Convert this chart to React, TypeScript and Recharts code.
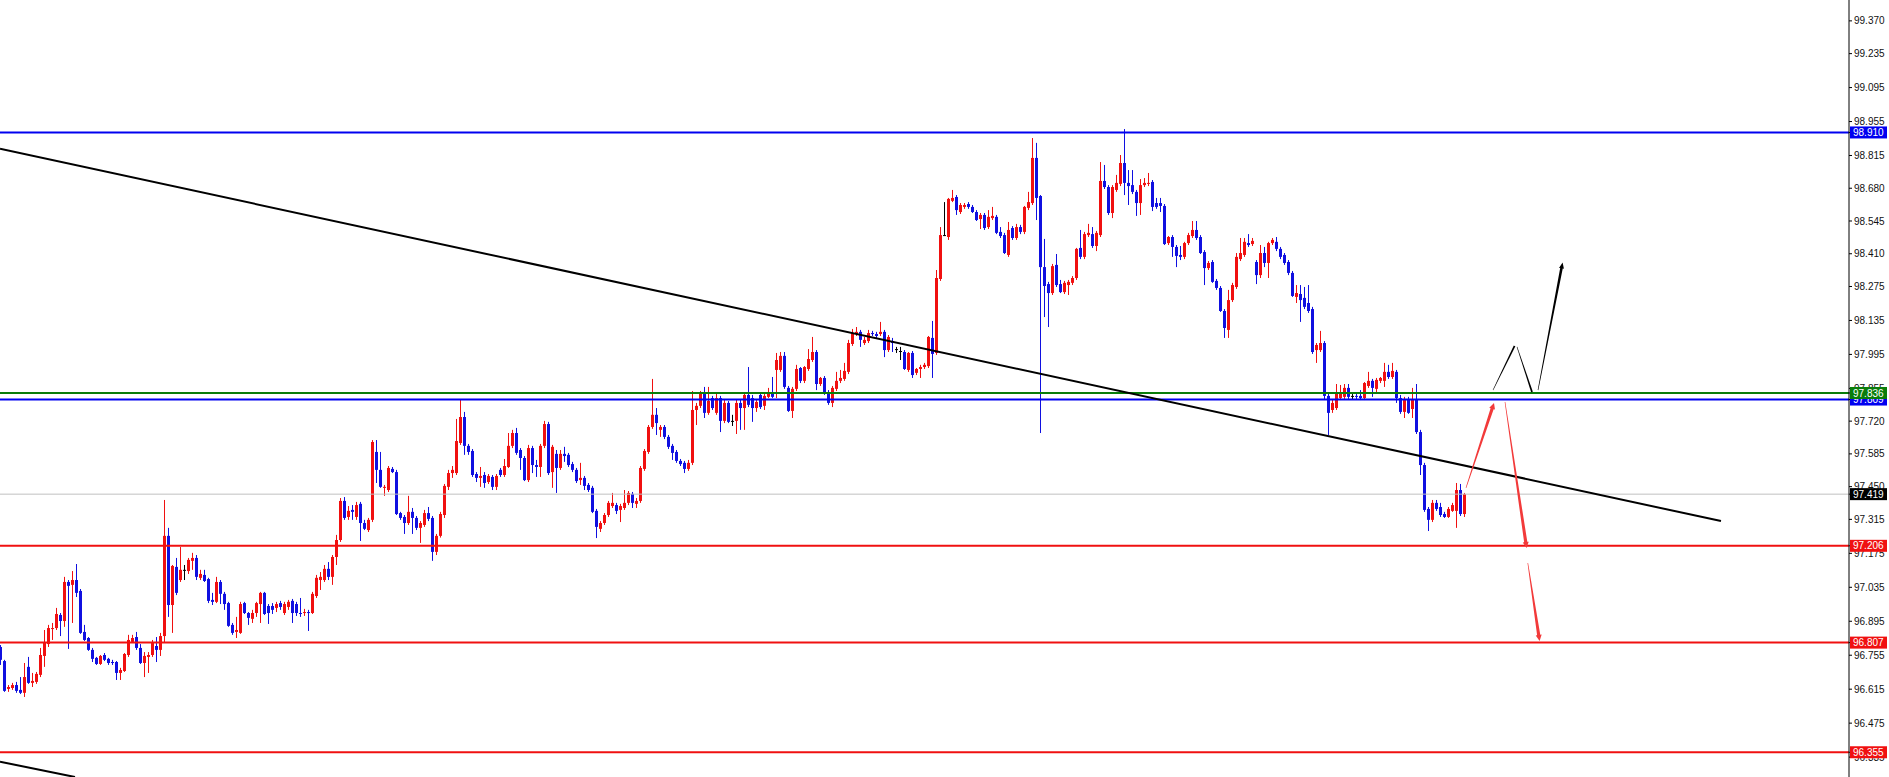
import React from 'react';
import { ComposedChart, Bar, XAxis, YAxis, ReferenceLine } from 'recharts';

const opens = [
96.789,96.731,96.616,96.620,96.632,96.612,96.600,96.707,96.641,96.645,96.674,96.752,96.801,96.863,96.867,96.921,96.896,97.057,97.045,97.065,
97.020,96.851,96.826,96.777,96.744,96.719,96.756,96.740,96.727,96.727,96.682,96.690,96.756,96.810,96.830,96.785,96.723,96.748,96.756,96.793,
96.777,96.834,97.247,96.962,97.119,97.065,97.107,97.102,97.144,97.156,97.074,97.086,97.069,96.983,96.975,97.057,97.008,96.970,96.880,96.851,
96.847,96.970,96.929,96.905,96.929,96.966,97.012,96.958,96.958,96.950,96.970,96.929,96.954,96.979,96.966,96.929,96.929,96.933,96.929,96.999,
97.065,97.065,97.111,97.078,97.160,97.230,97.391,97.325,97.354,97.325,97.379,97.300,97.271,97.313,97.593,97.519,97.445,97.436,97.523,97.510,
97.341,97.325,97.300,97.346,97.321,97.280,97.292,97.341,97.321,97.181,97.247,97.333,97.449,97.506,97.506,97.630,97.737,97.618,97.597,97.502,
97.486,97.498,97.469,97.490,97.449,97.519,97.498,97.531,97.618,97.671,97.601,97.568,97.477,97.609,97.539,97.531,97.618,97.708,97.510,97.585,
97.527,97.585,97.581,97.543,97.519,97.477,97.486,97.457,97.445,97.350,97.276,97.300,97.333,97.370,97.374,97.354,97.362,97.383,97.420,97.379,
97.391,97.523,97.593,97.696,97.746,97.684,97.696,97.655,97.618,97.593,97.556,97.548,97.523,97.548,97.766,97.783,97.836,97.754,97.815,97.754,
97.815,97.721,97.795,97.721,97.721,97.795,97.774,97.828,97.815,97.774,97.828,97.783,97.820,97.836,97.931,97.931,97.989,97.857,97.762,97.853,
97.939,97.886,97.935,97.972,98.005,97.873,97.898,97.840,97.795,97.853,97.886,97.894,97.923,98.038,98.079,98.088,98.042,98.050,98.083,98.079,
98.079,98.088,98.013,98.050,98.017,98.009,98.005,97.931,98.001,97.919,97.935,97.943,97.947,98.063,98.001,98.306,98.487,98.479,98.628,98.644,
98.582,98.603,98.615,98.603,98.582,98.553,98.570,98.520,98.557,98.562,98.500,98.487,98.405,98.516,98.475,98.520,98.500,98.599,98.619,98.805,
98.648,98.355,98.285,98.248,98.364,98.285,98.252,98.281,98.290,98.310,98.434,98.397,98.487,98.491,98.442,98.487,98.710,98.685,98.578,98.673,
98.698,98.784,98.702,98.693,98.665,98.619,98.693,98.698,98.706,98.619,98.619,98.607,98.454,98.479,98.438,98.405,98.397,98.454,98.483,98.508,
98.479,98.417,98.351,98.376,98.298,98.269,98.174,98.096,98.219,98.273,98.388,98.405,98.454,98.450,98.376,98.322,98.413,98.372,98.454,98.459,
98.430,98.405,98.376,98.331,98.232,98.244,98.228,98.207,98.182,98.013,98.013,98.042,97.824,97.766,97.774,97.815,97.820,97.857,97.824,97.824,
97.824,97.815,97.865,97.886,97.853,97.886,97.886,97.923,97.902,97.923,97.815,97.758,97.811,97.770,97.811,97.675,97.539,97.358,97.313,97.383,
97.366,97.337,97.325,97.350,97.350,97.436,97.337];

const highs = [
96.797,96.736,96.632,96.641,96.645,96.665,96.723,96.748,96.682,96.686,96.785,96.859,96.880,96.888,96.950,96.929,97.078,97.065,97.102,97.131,
97.028,96.880,96.830,96.785,96.748,96.756,96.764,96.744,96.736,96.731,96.703,96.764,96.839,96.839,96.851,96.801,96.768,96.768,96.818,96.830,
96.847,97.395,97.280,97.127,97.156,97.201,97.127,97.156,97.177,97.168,97.107,97.107,97.074,97.012,97.078,97.065,97.016,96.975,96.888,96.913,
96.975,96.975,96.933,96.942,96.975,97.016,97.016,96.966,96.970,96.975,96.979,96.975,96.983,96.987,96.975,96.991,96.946,96.942,97.016,97.086,
97.098,97.127,97.139,97.168,97.251,97.403,97.407,97.370,97.374,97.387,97.387,97.313,97.321,97.642,97.642,97.593,97.457,97.535,97.531,97.519,
97.346,97.333,97.412,97.362,97.329,97.308,97.354,97.366,97.329,97.255,97.346,97.461,97.519,97.535,97.729,97.807,97.758,97.626,97.605,97.510,
97.531,97.510,97.502,97.498,97.502,97.527,97.564,97.671,97.684,97.692,97.609,97.576,97.622,97.618,97.560,97.626,97.721,97.717,97.622,97.601,
97.601,97.614,97.589,97.552,97.527,97.548,97.494,97.465,97.453,97.358,97.308,97.341,97.391,97.424,97.383,97.379,97.436,97.432,97.428,97.403,
97.535,97.605,97.704,97.894,97.774,97.704,97.704,97.663,97.626,97.601,97.564,97.556,97.560,97.844,97.795,97.844,97.861,97.861,97.824,97.840,
97.824,97.807,97.803,97.746,97.807,97.807,97.836,97.943,97.828,97.807,97.836,97.832,97.857,97.902,98.001,98.005,98.005,97.865,97.861,97.952,
97.943,97.947,98.017,98.067,98.013,97.902,97.906,97.848,97.865,97.923,97.931,97.960,98.055,98.100,98.108,98.096,98.067,98.096,98.092,98.088,
98.129,98.096,98.075,98.063,98.026,98.026,98.013,98.005,98.009,97.939,97.952,97.960,98.071,98.133,98.343,98.520,98.623,98.640,98.673,98.652,
98.619,98.619,98.623,98.611,98.590,98.578,98.578,98.590,98.603,98.570,98.520,98.496,98.541,98.524,98.533,98.529,98.607,98.665,98.887,98.867,
98.652,98.471,98.294,98.368,98.409,98.302,98.298,98.302,98.318,98.434,98.508,98.500,98.533,98.520,98.504,98.788,98.776,98.693,98.693,98.735,
98.817,98.924,98.755,98.755,98.673,98.718,98.722,98.743,98.714,98.640,98.640,98.615,98.483,98.487,98.446,98.442,98.459,98.496,98.545,98.545,
98.487,98.425,98.380,98.384,98.306,98.277,98.182,98.261,98.290,98.413,98.475,98.475,98.491,98.475,98.384,98.446,98.438,98.459,98.475,98.479,
98.438,98.413,98.384,98.339,98.281,98.281,98.273,98.281,98.191,98.042,98.092,98.050,97.832,97.811,97.873,97.869,97.873,97.873,97.840,97.840,
97.848,97.881,97.923,97.894,97.898,97.902,97.960,97.952,97.960,97.931,97.828,97.820,97.820,97.857,97.873,97.684,97.548,97.366,97.395,97.395,
97.383,97.346,97.366,97.383,97.465,97.461,97.424];

const lows = [
96.715,96.604,96.604,96.612,96.600,96.595,96.583,96.637,96.624,96.637,96.665,96.707,96.789,96.818,96.859,96.834,96.872,96.781,96.888,96.995,
96.843,96.814,96.773,96.727,96.715,96.715,96.731,96.715,96.715,96.653,96.653,96.686,96.748,96.806,96.777,96.719,96.665,96.682,96.748,96.727,
96.752,96.806,96.913,96.847,97.003,97.057,97.065,97.090,97.107,97.065,97.065,97.057,96.970,96.962,96.970,96.966,96.942,96.872,96.839,96.826,
96.843,96.925,96.880,96.888,96.913,96.888,96.921,96.884,96.925,96.933,96.942,96.921,96.942,96.888,96.917,96.913,96.917,96.855,96.925,96.991,
97.024,97.057,97.065,97.045,97.127,97.222,97.313,97.313,97.313,97.313,97.226,97.271,97.263,97.304,97.465,97.445,97.412,97.428,97.506,97.333,
97.313,97.255,97.292,97.255,97.271,97.218,97.284,97.308,97.144,97.168,97.240,97.321,97.436,97.486,97.498,97.622,97.581,97.581,97.490,97.469,
97.449,97.445,97.461,97.436,97.436,97.490,97.490,97.527,97.609,97.581,97.519,97.473,97.469,97.506,97.490,97.490,97.609,97.498,97.445,97.424,
97.519,97.552,97.531,97.510,97.465,97.457,97.436,97.428,97.341,97.238,97.263,97.292,97.325,97.362,97.337,97.304,97.354,97.374,97.362,97.362,
97.383,97.515,97.585,97.688,97.663,97.655,97.646,97.605,97.560,97.548,97.535,97.506,97.515,97.539,97.704,97.774,97.733,97.746,97.766,97.746,
97.675,97.712,97.712,97.700,97.667,97.684,97.684,97.778,97.717,97.758,97.770,97.766,97.815,97.815,97.815,97.923,97.853,97.758,97.733,97.844,
97.877,97.877,97.927,97.964,97.848,97.865,97.828,97.787,97.778,97.844,97.877,97.886,97.914,98.030,98.071,98.026,98.034,98.042,98.071,98.063,
98.071,97.984,98.005,98.005,98.001,97.972,97.931,97.923,97.898,97.910,97.898,97.935,97.939,97.898,97.993,98.298,98.483,98.467,98.623,98.570,
98.574,98.595,98.595,98.578,98.545,98.512,98.508,98.512,98.549,98.491,98.475,98.409,98.397,98.467,98.467,98.491,98.491,98.590,98.611,98.549,
97.671,98.149,98.108,98.240,98.273,98.248,98.244,98.240,98.281,98.302,98.388,98.388,98.479,98.434,98.421,98.479,98.677,98.570,98.557,98.665,
98.689,98.652,98.611,98.656,98.566,98.570,98.685,98.689,98.586,98.595,98.582,98.446,98.446,98.397,98.355,98.384,98.388,98.446,98.475,98.467,
98.409,98.281,98.343,98.290,98.261,98.170,98.063,98.063,98.211,98.265,98.380,98.397,98.438,98.442,98.285,98.310,98.355,98.310,98.446,98.421,
98.388,98.364,98.322,98.232,98.207,98.129,98.182,98.166,97.997,97.960,98.005,97.807,97.663,97.754,97.766,97.807,97.811,97.811,97.811,97.811,
97.807,97.807,97.857,97.820,97.840,97.877,97.861,97.894,97.894,97.795,97.750,97.733,97.750,97.733,97.667,97.498,97.346,97.267,97.304,97.350,
97.325,97.321,97.321,97.346,97.280,97.329,97.325];

const closes = [
96.736,96.608,96.624,96.632,96.608,96.600,96.665,96.641,96.649,96.678,96.756,96.806,96.867,96.867,96.925,96.896,97.057,97.041,97.065,97.012,
96.847,96.818,96.777,96.740,96.719,96.752,96.736,96.723,96.723,96.682,96.694,96.760,96.818,96.826,96.785,96.723,96.752,96.756,96.806,96.777,
96.834,97.247,96.962,97.123,97.012,97.107,97.107,97.148,97.156,97.078,97.090,97.061,96.979,96.975,97.057,97.008,96.966,96.876,96.847,96.859,
96.966,96.929,96.909,96.929,96.970,97.012,96.925,96.929,96.942,96.966,96.954,96.966,96.975,96.929,96.929,96.925,96.933,96.929,97.008,97.074,
97.078,97.111,97.078,97.160,97.230,97.391,97.321,97.350,97.346,97.374,97.300,97.276,97.313,97.634,97.519,97.449,97.449,97.527,97.510,97.337,
97.321,97.300,97.346,97.321,97.280,97.300,97.341,97.317,97.181,97.247,97.337,97.453,97.506,97.519,97.638,97.737,97.618,97.593,97.498,97.486,
97.494,97.465,97.494,97.449,97.494,97.498,97.535,97.618,97.671,97.589,97.568,97.477,97.609,97.539,97.531,97.618,97.708,97.506,97.614,97.527,
97.585,97.576,97.539,97.519,97.473,97.486,97.453,97.436,97.346,97.284,97.300,97.333,97.383,97.383,97.350,97.370,97.383,97.424,97.383,97.391,
97.527,97.597,97.696,97.746,97.712,97.696,97.655,97.614,97.589,97.556,97.543,97.523,97.548,97.766,97.783,97.836,97.754,97.803,97.774,97.815,
97.721,97.795,97.717,97.721,97.795,97.774,97.828,97.787,97.774,97.799,97.778,97.824,97.836,97.820,97.972,97.989,97.861,97.762,97.853,97.935,
97.886,97.943,97.976,98.005,97.873,97.898,97.836,97.795,97.857,97.886,97.898,97.927,98.042,98.083,98.088,98.055,98.055,98.083,98.079,98.071,
98.088,98.013,98.067,98.042,98.017,98.009,97.935,98.001,97.910,97.935,97.943,97.952,98.067,97.997,98.310,98.487,98.487,98.636,98.640,98.590,
98.611,98.611,98.603,98.582,98.549,98.570,98.516,98.562,98.566,98.496,98.483,98.413,98.508,98.475,98.520,98.500,98.603,98.623,98.805,98.640,
98.355,98.277,98.248,98.359,98.281,98.252,98.290,98.294,98.310,98.430,98.397,98.491,98.496,98.442,98.496,98.710,98.685,98.578,98.685,98.702,
98.784,98.702,98.689,98.665,98.619,98.693,98.702,98.702,98.603,98.603,98.607,98.450,98.479,98.438,98.401,98.397,98.454,98.487,98.508,98.475,
98.413,98.351,98.372,98.294,98.269,98.174,98.104,98.219,98.281,98.397,98.413,98.459,98.446,98.463,98.322,98.413,98.372,98.454,98.467,98.430,
98.397,98.372,98.331,98.236,98.248,98.219,98.191,98.174,98.005,98.034,98.042,97.824,97.754,97.795,97.836,97.840,97.857,97.820,97.824,97.820,
97.815,97.877,97.886,97.857,97.890,97.898,97.923,97.902,97.927,97.815,97.758,97.811,97.754,97.811,97.675,97.539,97.354,97.313,97.383,97.358,
97.333,97.325,97.358,97.374,97.436,97.337,97.419];

const priceTicks = [99.370, 99.235, 99.095, 98.955, 98.815, 98.680, 98.545, 98.410, 98.275, 98.135, 97.995, 97.855, 97.720, 97.585, 97.450, 97.315, 97.175, 97.035, 96.895, 96.755, 96.615, 96.475, 96.335];

const levelValues = [98.910, 97.809, 97.836, 97.419, 97.206, 96.807, 96.355];
const levelColors = ['#0000f0', '#0000f0', '#0a7d0a', '#c0c0c0', '#f01010', '#f01010', '#f01010'];
const levelTagColors = ['#0000f0', '#0000f0', '#0a7d0a', '#000000', '#f01010', '#f01010', '#f01010'];
const levelWidths = [2, 2, 2, 1, 2, 2, 2];

const trendMain = [{ x: -0.25, y: 98.843 }, { x: 430.0, y: 97.308 }];
const trendLow = [{ x: -0.25, y: 96.316 }, { x: 18.5, y: 96.253 }];

const redArrows = [
  [{ x: 366.25, y: 97.445 }, { x: 373.25, y: 97.795 }],
  [{ x: 376.0, y: 97.799 }, { x: 381.4, y: 97.197 }],
  [{ x: 381.7, y: 97.135 }, { x: 384.65, y: 96.814 }],
];
const blackThin = [
  [{ x: 373.0, y: 97.848 }, { x: 378.4, y: 98.030 }],
  [{ x: 379.0, y: 98.026 }, { x: 382.75, y: 97.840 }],
];
const blackArrow = [{ x: 384.25, y: 97.848 }, { x: 390.4, y: 98.374 }];

const X_DOMAIN = [-0.25, 462];
const Y_DOMAIN = [96.253, 99.456];

const UP = '#f01010';
const DOWN = '#1010e0';

const candles = opens.map((o, i) => ({
  idx: i,
  open: o,
  high: highs[i],
  low: lows[i],
  close: closes[i],
  range: [lows[i], highs[i]],
}));

const allTicks = [...priceTicks, ...levelValues];

const CandleShape = (props: any) => {
  const { x, y, width, height, payload } = props;
  if (!payload || x == null || y == null) return null;
  const { open, close, high, low } = payload;
  const h = Math.abs(height || 0);
  const top0 = height < 0 ? y + height : y;
  const range = high - low;
  const k = range > 0 ? h / range : 0;
  const yOf = (v: number) => top0 + (high - v) * k;
  const bTop = yOf(Math.max(open, close));
  const bBot = yOf(Math.min(open, close));
  const color = close > open ? UP : close < open ? DOWN : '#000000';
  const cx = Math.round(x + width / 2 - 0.5);
  return (
    <g>
      <rect x={cx} y={top0} width={1} height={Math.max(h, 1)} fill={color} />
      <rect x={cx - 1} y={bTop} width={3} height={Math.max(bBot - bTop, 1)} fill={color} />
    </g>
  );
};

const AxisTick = (props: any) => {
  const { x, y, payload, index } = props;
  const v = payload.value;
  const li = index >= priceTicks.length ? index - priceTicks.length : -1;
  const label = Number(v).toFixed(3);
  if (li >= 0) {
    return (
      <g>
        <rect x={x - 4} y={y - 6} width={37} height={12} fill={levelTagColors[li]} />
        <text x={x - 1} y={y} dy="0.36em" fontSize={10} fontFamily="'Liberation Sans', Arial, sans-serif" fill="#ffffff">
          {label}
        </text>
      </g>
    );
  }
  return (
    <text x={x} y={y} dy="0.36em" fontSize={10} fontFamily="'Liberation Sans', Arial, sans-serif" fill="#111111">
      {label}
    </text>
  );
};

function arrowPoints(x1: number, y1: number, x2: number, y2: number, w0: number, w1: number, headLen: number, headW: number) {
  const dx = x2 - x1;
  const dy = y2 - y1;
  const L = Math.hypot(dx, dy) || 1;
  const ux = dx / L;
  const uy = dy / L;
  const nx = -uy;
  const ny = ux;
  const bx = x2 - ux * headLen;
  const by = y2 - uy * headLen;
  const pts = [
    [x1 + (nx * w0) / 2, y1 + (ny * w0) / 2],
    [bx + (nx * w1) / 2, by + (ny * w1) / 2],
    [bx + (nx * headW) / 2, by + (ny * headW) / 2],
    [x2, y2],
    [bx - (nx * headW) / 2, by - (ny * headW) / 2],
    [bx - (nx * w1) / 2, by - (ny * w1) / 2],
    [x1 - (nx * w0) / 2, y1 - (ny * w0) / 2],
  ];
  return pts.map((p) => `${p[0].toFixed(2)},${p[1].toFixed(2)}`).join(' ');
}

const makeArrowShape = (color: string, w0: number, w1: number, headLen: number, headW: number) => (p: any) => {
  const { x1, y1, x2, y2 } = p;
  if ([x1, y1, x2, y2].some((v) => v == null || isNaN(v))) return <g />;
  return <polygon points={arrowPoints(x1, y1, x2, y2, w0, w1, headLen, headW)} fill={color} />;
};

const makeTaperShape = (color: string, w0: number, w1: number) => (p: any) => {
  const { x1, y1, x2, y2 } = p;
  if ([x1, y1, x2, y2].some((v) => v == null || isNaN(v))) return <g />;
  return <polygon points={arrowPoints(x1, y1, x2, y2, w0, w1, 0.01, w1)} fill={color} />;
};

const redArrowShape = makeArrowShape('#f23a3a', 0.6, 3.2, 6, 6);
const blackArrowShape = makeArrowShape('#000000', 0.6, 2.6, 6, 5);
const blackThinShape = makeTaperShape('#000000', 0.5, 1.8);

export default function App() {
  return (
    <div style={{ position: 'fixed', left: 0, top: 0, width: 1889, height: 777, background: '#ffffff' }}>
      <ComposedChart width={1889} height={777} data={candles} margin={{ top: 0, right: 0, bottom: 0, left: 0 }}>
        <XAxis type="number" dataKey="idx" domain={X_DOMAIN} hide allowDataOverflow />
        <YAxis
          orientation="right"
          width={40}
          type="number"
          domain={Y_DOMAIN}
          allowDataOverflow
          ticks={allTicks}
          interval={0}
          tickSize={3}
          tickMargin={2}
          tick={<AxisTick />}
          axisLine={{ stroke: '#000000' }}
          tickLine={{ stroke: '#000000' }}
        />
        <Bar dataKey="range" shape={CandleShape} barSize={3} isAnimationActive={false} />
        {levelValues.map((v, i) => (
          <ReferenceLine key={'lv' + i} y={v} stroke={levelColors[i]} strokeWidth={levelWidths[i]} ifOverflow="visible" />
        ))}
        <ReferenceLine segment={trendMain} stroke="#000000" strokeWidth={2} ifOverflow="visible" />
        <ReferenceLine segment={trendLow} stroke="#000000" strokeWidth={2} ifOverflow="visible" />
        {redArrows.map((s, i) => (
          <ReferenceLine key={'ra' + i} segment={s} ifOverflow="visible" shape={redArrowShape} />
        ))}
        {blackThin.map((s, i) => (
          <ReferenceLine key={'bt' + i} segment={s} ifOverflow="visible" shape={blackThinShape} />
        ))}
        <ReferenceLine segment={blackArrow} ifOverflow="visible" shape={blackArrowShape} />
      </ComposedChart>
    </div>
  );
}
